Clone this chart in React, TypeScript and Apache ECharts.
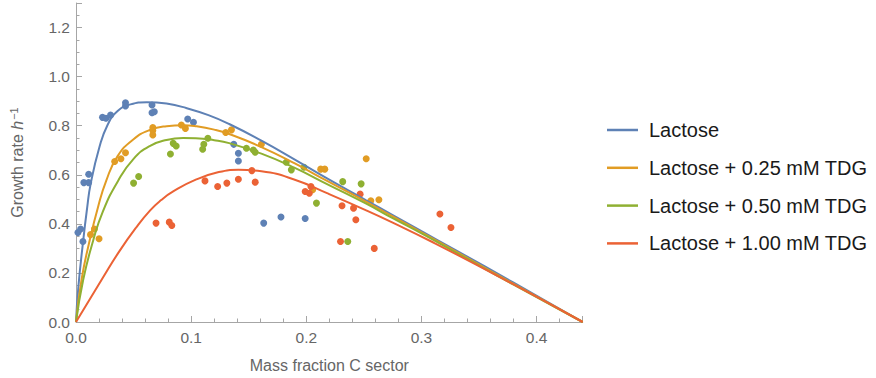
import React, { useEffect, useRef } from "react";
import * as echarts from "echarts";

// Series names
const seriesNames = [
  "Lactose",
  "Lactose + 0.25 mM TDG",
  "Lactose + 0.50 mM TDG",
  "Lactose + 1.00 mM TDG",
];
const seriesColors = ["#5E81B5", "#E19C24", "#8FB032", "#EB6235"];

// Measured points [mass fraction, growth rate]
const ptsLactose = [
  [0.0017, 0.365], [0.004, 0.379], [0.006, 0.328], [0.0068, 0.568], [0.011, 0.568],
  [0.011, 0.602], [0.023, 0.834], [0.026, 0.83], [0.03, 0.843], [0.043, 0.893],
  [0.043, 0.88], [0.066, 0.884], [0.066, 0.853], [0.068, 0.857], [0.097, 0.827],
  [0.102, 0.814], [0.137, 0.724], [0.141, 0.688], [0.141, 0.656], [0.163, 0.403],
  [0.178, 0.428], [0.199, 0.422],
];
const ptsTDG025 = [
  [0.0126, 0.356], [0.016, 0.379], [0.02, 0.339], [0.0336, 0.654], [0.039, 0.665],
  [0.043, 0.69], [0.0667, 0.792], [0.0667, 0.78], [0.0667, 0.762], [0.0915, 0.803],
  [0.095, 0.789], [0.13, 0.772], [0.135, 0.783], [0.161, 0.724], [0.2125, 0.623],
  [0.216, 0.623], [0.252, 0.665], [0.2055, 0.539], [0.256, 0.494], [0.263, 0.498],
];
const ptsTDG050 = [
  [0.05, 0.566], [0.0544, 0.593], [0.082, 0.685], [0.0844, 0.728], [0.087, 0.717],
  [0.11, 0.704], [0.111, 0.724], [0.1145, 0.749], [0.148, 0.708], [0.154, 0.701],
  [0.1556, 0.692], [0.1826, 0.651], [0.187, 0.62], [0.198, 0.631], [0.2316, 0.572],
  [0.2476, 0.563], [0.2088, 0.4845], [0.236, 0.328],
];
const ptsTDG100 = [
  [0.0695, 0.403], [0.081, 0.407], [0.0832, 0.393], [0.112, 0.575], [0.123, 0.552],
  [0.131, 0.566], [0.141, 0.582], [0.1556, 0.57], [0.1527, 0.617], [0.199, 0.532],
  [0.2026, 0.525], [0.204, 0.552], [0.231, 0.474], [0.241, 0.464], [0.243, 0.417],
  [0.2467, 0.521], [0.2297, 0.328], [0.259, 0.3], [0.316, 0.44], [0.3256, 0.385],
];

// Fitted model curves [mass fraction, growth rate]
const fitLactose = [
  [0, 0], [0.002, 0.14], [0.0062, 0.33], [0.0097, 0.466], [0.0126, 0.56],
  [0.0203, 0.712], [0.0274, 0.803], [0.0359, 0.859], [0.0473, 0.887], [0.0615, 0.896],
  [0.0786, 0.89], [0.0957, 0.872], [0.115, 0.843], [0.133, 0.807], [0.161, 0.739],
  [0.19, 0.662], [0.218, 0.585], [0.252, 0.496], [0.275, 0.436], [0.3, 0.37],
  [0.33, 0.292], [0.38, 0.16], [0.44, 0],
];
const fitTDG025 = [
  [0, 0], [0.0048, 0.173], [0.012, 0.335], [0.0191, 0.468], [0.0262, 0.575],
  [0.036, 0.675], [0.05, 0.745], [0.0644, 0.783], [0.0786, 0.798], [0.093, 0.802],
  [0.104, 0.798], [0.12, 0.784], [0.133, 0.766], [0.161, 0.713], [0.19, 0.646],
  [0.218, 0.575], [0.252, 0.49], [0.275, 0.43], [0.3, 0.365], [0.33, 0.287],
  [0.38, 0.155], [0.44, 0],
];
const fitTDG050 = [
  [0, 0], [0.0063, 0.173], [0.0148, 0.33], [0.0233, 0.45], [0.0365, 0.575],
  [0.05, 0.665], [0.0644, 0.718], [0.0786, 0.742], [0.093, 0.75], [0.104, 0.749],
  [0.12, 0.741], [0.133, 0.729], [0.161, 0.686], [0.19, 0.628], [0.218, 0.562],
  [0.252, 0.482], [0.275, 0.423], [0.3, 0.361], [0.33, 0.283], [0.38, 0.152],
  [0.44, 0],
];
const fitTDG100 = [
  [0, 0], [0.0233, 0.18], [0.0376, 0.288], [0.0519, 0.383], [0.0644, 0.455],
  [0.074, 0.497], [0.0844, 0.532], [0.104, 0.58], [0.124, 0.611], [0.141, 0.62],
  [0.161, 0.614], [0.19, 0.58], [0.218, 0.525], [0.252, 0.455], [0.275, 0.405],
  [0.309, 0.327], [0.366, 0.188], [0.44, 0],
];

const pointSets = [ptsLactose, ptsTDG025, ptsTDG050, ptsTDG100];
const fitSets = [fitLactose, fitTDG025, fitTDG050, fitTDG100];

const axisColor = "#a6a6a6";
const labelColor = "#666666";
const FONT = "Liberation Sans, Arial, sans-serif";

export default function App() {
  const ref = useRef<HTMLDivElement>(null);
  useEffect(() => {
    document.body.style.margin = "0";
    if (!ref.current) return;
    const chart = echarts.init(ref.current, undefined, { renderer: "svg" });
    const scatterSeries = pointSets.map((pts, i) => ({
      type: "scatter",
      name: seriesNames[i] + " data",
      data: pts,
      symbol: "circle",
      symbolSize: 7,
      itemStyle: { color: seriesColors[i], opacity: 1 },
      z: 2,
      silent: true,
    }));
    const lineSeries = fitSets.map((fit, i) => ({
      type: "line",
      name: seriesNames[i],
      data: fit,
      showSymbol: false,
      symbol: "none",
      smooth: 0.5,
      lineStyle: { color: seriesColors[i], width: 2 },
      itemStyle: { color: seriesColors[i] },
      z: 3 + i,
      silent: true,
    }));
    chart.setOption({
      animation: false,
      textStyle: { fontFamily: FONT },
      grid: { left: 68, top: 3, width: 514.7, height: 319.5 },
      legend: {
        orient: "vertical",
        left: 602,
        top: 114,
        itemWidth: 31,
        itemHeight: 2.5,
        itemGap: 15.8,
        icon: "rect",
        data: seriesNames.map((n, i) => ({ name: n, itemStyle: { color: seriesColors[i] } })),
        textStyle: {
          fontSize: 20,
          lineHeight: 22,
          color: "#1a1a1a",
          fontFamily: FONT,
          padding: [0, 0, 0, 6],
        },
        selectedMode: false,
      },
      xAxis: {
        type: "value",
        min: 0,
        max: 0.44,
        interval: 0.1,
        splitLine: { show: false },
        axisLine: { show: true, onZero: false, lineStyle: { color: axisColor, width: 1 } },
        axisTick: { show: true, inside: true, length: 6, lineStyle: { color: axisColor } },
        minorTick: { show: true, splitNumber: 5, length: 3.5, lineStyle: { color: axisColor } },
        axisLabel: {
          color: labelColor,
          fontSize: 15.5,
          margin: 7,
          showMaxLabel: false,
          formatter: (v: number) => v.toFixed(1),
        },
        name: "Mass fraction C sector",
        nameLocation: "middle",
        nameGap: 35,
        nameTextStyle: { color: labelColor, fontSize: 16 },
      },
      yAxis: {
        type: "value",
        min: 0,
        max: 1.3,
        interval: 0.2,
        splitLine: { show: false },
        axisLine: { show: true, onZero: false, lineStyle: { color: axisColor, width: 1 } },
        axisTick: { show: true, inside: true, length: 6, lineStyle: { color: axisColor } },
        minorTick: { show: true, splitNumber: 4, length: 3.5, lineStyle: { color: axisColor } },
        axisLabel: {
          color: labelColor,
          fontSize: 15.5,
          margin: 6,
          showMaxLabel: false,
          formatter: (v: number) => v.toFixed(1),
        },
        name: "{a|Growth rate }{i|h}{s|−1}",
        nameLocation: "middle",
        nameGap: 49,
        nameTextStyle: {
          color: labelColor,
          fontSize: 16,
          rich: {
            a: { fontSize: 16, color: labelColor, fontFamily: FONT },
            i: { fontSize: 16, color: labelColor, fontStyle: "italic", fontFamily: FONT },
            s: { fontSize: 11, color: labelColor, fontFamily: FONT, padding: [0, 0, 8, 1] },
          },
        },
      },
      series: [...scatterSeries, ...lineSeries],
    });
    return () => chart.dispose();
  }, []);
  return <div ref={ref} style={{ width: 876, height: 378 }} />;
}
